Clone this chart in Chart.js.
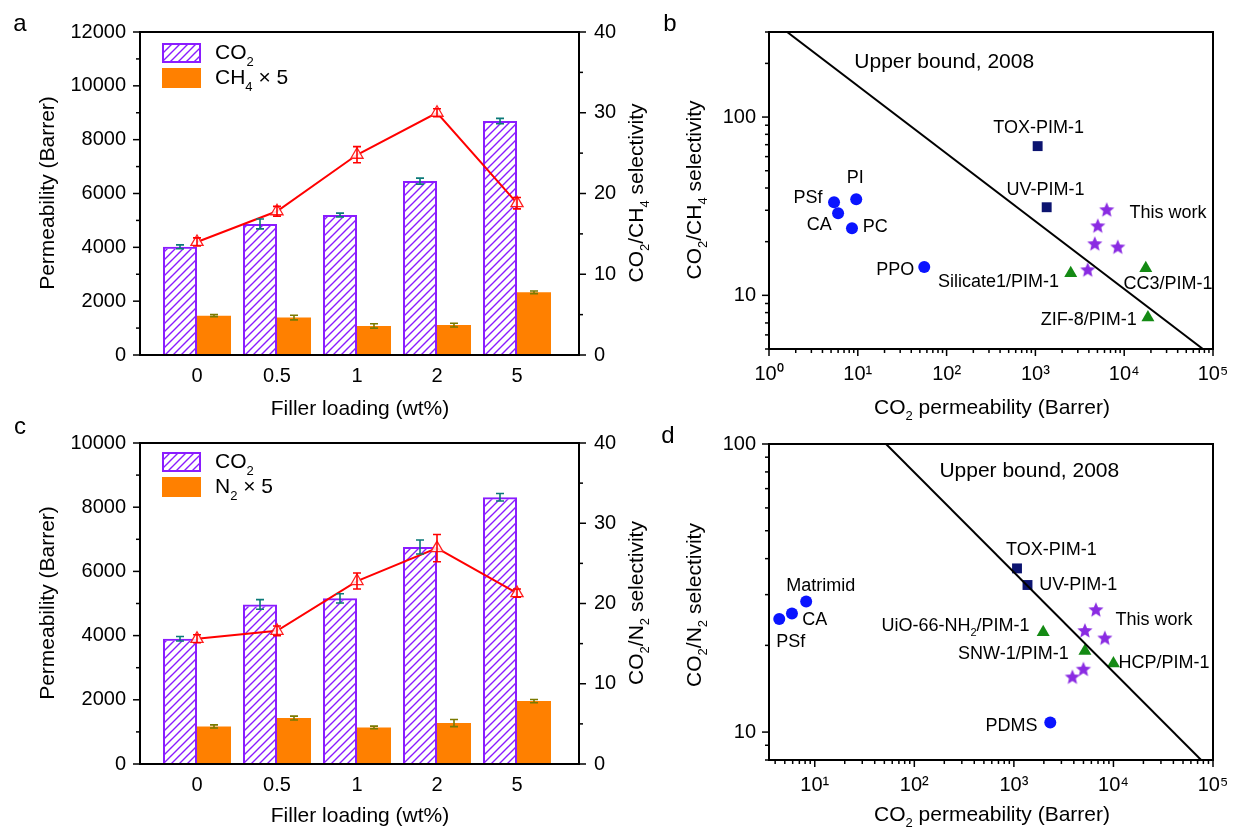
<!DOCTYPE html>
<html lang="en">
<head>
<meta charset="UTF-8">
<title>CO2 permeability and selectivity</title>
<script src="https://cdn.jsdelivr.net/npm/chart.js"></script>
<style>
    body { margin: 0; background: #fff; }
    #page { position: relative; width: 1235px; height: 831px; overflow: hidden; background: #fff; }
    canvas { position: absolute; }
</style>
</head>
<body>
<div id="page">
    <canvas id="chartA" width="660" height="430" style="left:0;top:0"></canvas>
    <canvas id="chartB" width="600" height="430" style="left:660px;top:0"></canvas>
    <canvas id="chartC" width="660" height="416" style="left:0;top:415px"></canvas>
    <canvas id="chartD" width="600" height="416" style="left:660px;top:415px"></canvas>
</div>
<script>
// ---- data ----
const loadings = ['0', '0.5', '1', '2', '5'];
const loadingPos = [0, 1, 2, 3, 4];

// panel a (CO2 / CH4)
const co2PermA = [4020, 4870, 5200, 6460, 8690];
const co2ErrA = [70, 185, 70, 110, 100];
const ch4PermA = [1460, 1390, 1080, 1110, 2330];
const ch4ErrA = [40, 85, 80, 70, 50];
const selA = [14.0, 17.8, 24.8, 30.0, 18.8];
const selErrA = [0.5, 0.6, 1.0, 0.5, 0.7];

// panel c (CO2 / N2)
const co2PermC = [3900, 4970, 5160, 6760, 8310];
const co2ErrC = [70, 150, 145, 220, 115];
const n2PermC = [1170, 1430, 1140, 1275, 1960];
const n2ErrC = [50, 60, 40, 110, 50];
const selC = [15.6, 16.6, 22.8, 26.9, 21.3];
const selErrC = [0.5, 0.6, 1.0, 1.7, 0.5];

// bar panel ticks
const permTicksA = [0, 2000, 4000, 6000, 8000, 10000, 12000];
const permMinorA = [1000, 3000, 5000, 7000, 9000, 11000];
const permTicksC = [0, 2000, 4000, 6000, 8000, 10000];
const permMinorC = [1000, 3000, 5000, 7000, 9000];
const selTicks = [0, 10, 20, 30, 40];
const selMinor = [5, 15, 25, 35];

// panel b (Robeson plot CO2/CH4)
const bPolyP = [5.4, 9.6, 6.0, 8.6, 56];          // PSf, PI, CA, PC, PPO
const bPolySel = [33.3, 34.6, 28.9, 23.8, 14.4];
const bPimP = [1060, 1340];                      // TOX-PIM-1, UV-PIM-1
const bPimSel = [68.7, 31.2];
const bWorkP = [3880, 4660, 5040, 6360, 8470];   // this work
const bWorkSel = [14.0, 19.6, 24.7, 30.4, 18.8];
const bMmmP = [2500, 17500, 18500];              // Silicate1, CC3, ZIF-8
const bMmmSel = [13.3, 14.2, 7.5];
const bBoundP = [1.6, 77000];
const bBoundSel = [300, 5];
const bLabels = [
    ['Upper bound, 2008', 94, 204, 21],
    ['PI', 9.35, 45.4], ['PSf', 2.75, 35.1], ['CA', 3.67, 24.7], ['PC', 15.7, 24.1],
    ['PPO', 26.4, 13.8], ['TOX-PIM-1', 1087, 86.7], ['UV-PIM-1', 1303, 38.9],
    ['This work', 31050, 28.9], ['Silicate1/PIM-1', 384, 11.8],
    ['CC3/PIM-1', 31050, 11.5], ['ZIF-8/PIM-1', 3980, 7.24]
];

// panel d (Robeson plot CO2/N2)
const dPolyP = [4.4, 5.9, 8.2, 2320];            // PSf, CA, Matrimid, PDMS
const dPolySel = [24.7, 25.8, 28.4, 10.8];
const dPimP = [1075, 1370];
const dPimSel = [37, 32.4];
const dWorkP = [3870, 4990, 5170, 6670, 8200];
const dWorkSel = [15.6, 16.6, 22.6, 26.7, 21.3];
const dMmmP = [1970, 5170, 10000];               // UiO-66-NH2, SNW-1, HCP
const dMmmSel = [22.2, 19.1, 17.3];
const dBoundP = [52, 76000];
const dBoundSel = [100, 8];
const dLabels = [
    ['Upper bound, 2008', 1429, 80.6, 21],
    ['TOX-PIM-1', 2377, 42.9], ['UV-PIM-1', 4426, 32.5], ['Matrimid', 11.5, 32.2],
    ['CA', 10.0, 24.4], ['PSf', 5.75, 20.6], ['This work', 25600, 24.4],
    ['UiO-66-NH_2/PIM-1', 259, 23.4], ['SNW-1/PIM-1', 988, 18.7],
    ['HCP/PIM-1', 32200, 17.3], ['PDMS', 944, 10.5]
];

const decadeTicks = [1, 10, 100, 1000, 10000, 100000];
const decadeLabels = ['10⁰', '10¹', '10²', '10³', '10⁴', '10⁵'];
const selLogTicks = [10, 100];

// ---- helpers ----
const FONT = '"Liberation Sans", Arial, sans-serif';
const PURPLE = '#8a1cff';
const ORANGE = '#ff8000';

Chart.defaults.font.family = FONT;
Chart.defaults.font.size = 20;
Chart.defaults.color = '#000';
Chart.defaults.animation = false;

function pts(xs, ys) {
    return xs.map((x, i) => ({ x: x, y: ys[i] }));
}

function minorLog(lo, hi) {
    const out = [];
    for (let d = 1; d < hi; d *= 10) {
        for (let k = 2; k <= 9; k++) {
            const v = k * d;
            if (v >= lo && v <= hi) out.push(v);
        }
    }
    return out;
}

function hatch(color) {
    const c = document.createElement('canvas');
    c.width = 8; c.height = 8;
    const g = c.getContext('2d');
    g.strokeStyle = color;
    g.lineWidth = 1.4;
    g.beginPath();
    g.moveTo(0, 8); g.lineTo(8, 0);
    g.moveTo(-2, 2); g.lineTo(2, -2);
    g.moveTo(6, 10); g.lineTo(10, 6);
    g.stroke();
    return g.createPattern(c, 'repeat');
}

function starImg(color, r) {
    const s = Math.ceil(r * 2 + 2);
    const c = document.createElement('canvas');
    c.width = s; c.height = s;
    const g = c.getContext('2d');
    g.fillStyle = color;
    g.beginPath();
    for (let i = 0; i < 10; i++) {
        const rad = i % 2 ? r * 0.45 : r;
        const ang = -Math.PI / 2 + i * Math.PI / 5;
        g.lineTo(s / 2 + rad * Math.cos(ang), s / 2 + 1 + rad * Math.sin(ang));
    }
    g.closePath();
    g.fill();
    return c;
}

// text with _2 style subscripts
function richText(ctx, str, x, y, size, rot) {
    const segs = str.split(/_(\d)/);
    const fontOf = sub => (sub ? Math.round(size * 0.62) : size) + 'px ' + FONT;
    ctx.save();
    ctx.translate(x, y);
    ctx.rotate(rot || 0);
    ctx.textBaseline = 'middle';
    ctx.textAlign = 'left';
    ctx.fillStyle = '#000';
    let w = 0;
    segs.forEach((s, k) => { ctx.font = fontOf(k % 2); w += ctx.measureText(s).width; });
    let cx = -w / 2;
    segs.forEach((s, k) => {
        ctx.font = fontOf(k % 2);
        ctx.fillText(s, cx, k % 2 ? size * 0.4 : 0);
        cx += ctx.measureText(s).width;
    });
    ctx.restore();
}

const decor = {
    id: 'decor',
    afterDatasetsDraw(chart) {
        const ctx = chart.ctx;
        chart.data.datasets.forEach((ds, i) => {
            if (!ds.errors) return;
            const meta = chart.getDatasetMeta(i);
            const ys = chart.scales[meta.yAxisID];
            ctx.save();
            ctx.strokeStyle = ds.errorColor;
            ctx.lineWidth = 1.6;
            meta.data.forEach((el, j) => {
                const v = ds.data[j].y, e = ds.errors[j];
                const y1 = ys.getPixelForValue(v + e), y2 = ys.getPixelForValue(v - e);
                ctx.beginPath();
                ctx.moveTo(el.x, y1); ctx.lineTo(el.x, y2);
                ctx.moveTo(el.x - 4, y1); ctx.lineTo(el.x + 4, y1);
                ctx.moveTo(el.x - 4, y2); ctx.lineTo(el.x + 4, y2);
                ctx.stroke();
            });
            ctx.restore();
        });
    },
    afterDraw(chart, args, o) {
        const ctx = chart.ctx, a = chart.chartArea;
        ctx.save();
        ctx.strokeStyle = '#000';
        ctx.lineWidth = 2;
        ctx.strokeRect(a.left, a.top, a.right - a.left, a.bottom - a.top);

        // outward tick marks
        ctx.lineWidth = 1.5;
        Object.keys(o.marks || {}).forEach(id => {
            const s = chart.scales[id], m = o.marks[id];
            [[m.major, 7], [m.minor || [], 4]].forEach(([vals, len]) => {
                vals.forEach(v => {
                    const p = s.getPixelForValue(v);
                    ctx.beginPath();
                    if (s.position === 'left') { ctx.moveTo(a.left, p); ctx.lineTo(a.left - len, p); }
                    else if (s.position === 'right') { ctx.moveTo(a.right, p); ctx.lineTo(a.right + len, p); }
                    else { ctx.moveTo(p, a.bottom); ctx.lineTo(p, a.bottom + len); }
                    ctx.stroke();
                });
            });
        });

        (o.titles || []).forEach(t => richText(ctx, t[0], t[1], t[2], 21, t[3] || 0));

        (o.labels || []).forEach(l => {
            const x = chart.scales.x.getPixelForValue(l[1]);
            const y = chart.scales.y.getPixelForValue(l[2]);
            richText(ctx, l[0], x, y, l[3] || 18, 0);
        });

        if (o.legend) {
            const L = o.legend;
            L.items.forEach((it, k) => {
                const y = L.y + k * L.step;
                ctx.fillStyle = it.fill;
                ctx.fillRect(L.x, y, L.w, L.h);
                if (it.stroke) {
                    ctx.strokeStyle = it.stroke;
                    ctx.lineWidth = 2;
                    ctx.strokeRect(L.x + 1, y + 1, L.w - 2, L.h - 2);
                }
                ctx.save();
                ctx.translate(L.tx, y + L.h / 2);
                ctx.textBaseline = 'middle';
                ctx.fillStyle = '#000';
                let cx = 0;
                it.text.split(/_(\d)/).forEach((s, q) => {
                    ctx.font = (q % 2 ? 13 : 21) + 'px ' + FONT;
                    ctx.fillText(s, cx, q % 2 ? 9 : 0);
                    cx += ctx.measureText(s).width;
                });
                ctx.restore();
            });
        }

        if (o.letter) {
            ctx.font = '24px ' + FONT;
            ctx.fillStyle = '#000';
            ctx.textAlign = 'center';
            ctx.textBaseline = 'middle';
            ctx.fillText(o.letter[0], o.letter[1], o.letter[2]);
        }
        ctx.restore();
    }
};

function barPanel(id, p) {
    return new Chart(document.getElementById(id), {
        type: 'bar',
        data: {
            datasets: [{
                type: 'line',
                yAxisID: 'y1',
                order: 0,
                data: pts(loadingPos, p.sel),
                errors: p.selErr,
                errorColor: '#ff0000',
                borderColor: '#ff0000',
                borderWidth: 2,
                pointStyle: 'triangle',
                pointRadius: 7,
                pointBackgroundColor: 'rgba(255,255,255,0.85)',
                pointBorderColor: '#ff2020',
                pointBorderWidth: 1.3
            }, {
                order: 1,
                yAxisID: 'y',
                data: pts(loadingPos, p.co2),
                errors: p.co2Err,
                errorColor: '#0b7a78',
                backgroundColor: hatch(PURPLE),
                borderColor: PURPLE,
                borderWidth: 2,
                borderSkipped: 'bottom',
                categoryPercentage: 0.85,
                barPercentage: 1.0
            }, {
                order: 1,
                yAxisID: 'y',
                data: pts(loadingPos, p.gas),
                errors: p.gasErr,
                errorColor: '#7a7a00',
                backgroundColor: ORANGE,
                borderWidth: 0,
                categoryPercentage: 0.85,
                barPercentage: 1.0
            }]
        },
        options: {
            responsive: false,
            devicePixelRatio: 1,
            layout: { padding: { top: p.top, right: 0, left: 0, bottom: 0 } },
            plugins: {
                legend: { display: false },
                tooltip: { enabled: false },
                decor: {
                    marks: {
                        y: { major: p.permTicks, minor: p.permMinor },
                        y1: { major: selTicks, minor: selMinor }
                    },
                    titles: p.titles,
                    legend: p.legend,
                    letter: p.letter
                }
            },
            scales: {
                x: {
                    type: 'linear',
                    offset: false,
                    min: -0.7125,
                    max: 4.775,
                    afterBuildTicks: s => { s.ticks = loadingPos.map(v => ({ value: v })); },
                    afterFit: s => { s.height = p.xHeight; },
                    ticks: { callback: (v, i) => loadings[i], padding: 9, maxRotation: 0, autoSkip: false },
                    grid: { display: false, drawTicks: false },
                    border: { display: true, width: 2, color: '#000' }
                },
                y: {
                    position: 'left',
                    min: 0,
                    max: p.permMax,
                    afterBuildTicks: s => { s.ticks = p.permTicks.map(v => ({ value: v })); },
                    afterFit: s => { s.width = 140; },
                    ticks: { callback: v => String(v), padding: 14 },
                    grid: { display: false, drawTicks: false },
                    border: { display: true, width: 2, color: '#000' }
                },
                y1: {
                    position: 'right',
                    min: 0,
                    max: 40,
                    afterBuildTicks: s => { s.ticks = selTicks.map(v => ({ value: v })); },
                    afterFit: s => { s.width = 660 - 579; },
                    ticks: { callback: v => String(v), padding: 15 },
                    grid: { display: false, drawTicks: false },
                    border: { display: true, width: 2, color: '#000' }
                }
            }
        },
        plugins: [decor]
    });
}

function scatterPanel(id, p) {
    const star = starImg('#8a2be2', 8);
    return new Chart(document.getElementById(id), {
        type: 'scatter',
        data: {
            datasets: [{
                data: pts(p.boundP, p.boundSel),
                showLine: true,
                borderColor: '#000',
                borderWidth: 2,
                pointRadius: 0
            }, {
                data: pts(p.polyP, p.polySel),
                pointStyle: 'circle',
                pointRadius: 6,
                backgroundColor: '#0a14ff',
                borderWidth: 0
            }, {
                data: pts(p.pimP, p.pimSel),
                pointStyle: 'rect',
                pointRadius: 7,
                backgroundColor: '#0c1470',
                borderWidth: 0
            }, {
                data: pts(p.workP, p.workSel),
                pointStyle: star,
                pointRadius: 7
            }, {
                data: pts(p.mmmP, p.mmmSel),
                pointStyle: 'triangle',
                pointRadius: 7.5,
                backgroundColor: '#148a14',
                borderWidth: 0
            }]
        },
        options: {
            responsive: false,
            devicePixelRatio: 1,
            layout: { padding: { top: p.top, right: 47, left: 0, bottom: 0 } },
            plugins: {
                legend: { display: false },
                tooltip: { enabled: false },
                decor: {
                    marks: {
                        x: { major: p.xTicks, minor: minorLog(p.xMin, p.xMax) },
                        y: { major: selLogTicks, minor: minorLog(p.yMin, p.yMax) }
                    },
                    titles: p.titles,
                    labels: p.labels,
                    letter: p.letter
                }
            },
            scales: {
                x: {
                    type: 'logarithmic',
                    position: 'bottom',
                    min: p.xMin,
                    max: p.xMax,
                    afterBuildTicks: s => { s.ticks = p.xTicks.map(v => ({ value: v })); },
                    afterFit: s => { s.height = p.xHeight; },
                    ticks: {
                        callback: v => decadeLabels[decadeTicks.indexOf(v)],
                        padding: 13, maxRotation: 0, autoSkip: false
                    },
                    grid: { display: false, drawTicks: false },
                    border: { display: true, width: 2, color: '#000' }
                },
                y: {
                    type: 'logarithmic',
                    position: 'left',
                    min: p.yMin,
                    max: p.yMax,
                    afterBuildTicks: s => { s.ticks = selLogTicks.map(v => ({ value: v })); },
                    afterFit: s => { s.width = 109; },
                    ticks: { callback: v => String(v), padding: 13 },
                    grid: { display: false, drawTicks: false },
                    border: { display: true, width: 2, color: '#000' }
                }
            }
        },
        plugins: [decor]
    });
}

barPanel('chartA', {
    co2: co2PermA, co2Err: co2ErrA, gas: ch4PermA, gasErr: ch4ErrA,
    sel: selA, selErr: selErrA,
    permMax: 12000, permTicks: permTicksA, permMinor: permMinorA,
    top: 32, xHeight: 430 - 355,
    titles: [['Permeability (Barrer)', 48, 193, -Math.PI / 2],
             ['CO_2/CH_4 selectivity', 637, 193, -Math.PI / 2],
             ['Filler loading (wt%)', 360, 409]],
    legend: { x: 162, y: 43, step: 25, w: 39, h: 20, tx: 215,
              items: [{ fill: hatch(PURPLE), stroke: PURPLE, text: 'CO_2' },
                      { fill: ORANGE, text: 'CH_4 × 5' }] },
    letter: ['a', 20, 24]
});

barPanel('chartC', {
    co2: co2PermC, co2Err: co2ErrC, gas: n2PermC, gasErr: n2ErrC,
    sel: selC, selErr: selErrC,
    permMax: 10000, permTicks: permTicksC, permMinor: permMinorC,
    top: 28, xHeight: 416 - 349,
    titles: [['Permeability (Barrer)', 48, 188, -Math.PI / 2],
             ['CO_2/N_2 selectivity', 637, 188, -Math.PI / 2],
             ['Filler loading (wt%)', 360, 401]],
    legend: { x: 162, y: 37, step: 25, w: 39, h: 20, tx: 215,
              items: [{ fill: hatch(PURPLE), stroke: PURPLE, text: 'CO_2' },
                      { fill: ORANGE, text: 'N_2 × 5' }] },
    letter: ['c', 20, 12]
});

scatterPanel('chartB', {
    polyP: bPolyP, polySel: bPolySel, pimP: bPimP, pimSel: bPimSel,
    workP: bWorkP, workSel: bWorkSel, mmmP: bMmmP, mmmSel: bMmmSel,
    boundP: bBoundP, boundSel: bBoundSel,
    xMin: 1, xMax: 100000, yMin: 5, yMax: 300, xTicks: decadeTicks,
    top: 32, xHeight: 430 - 349,
    titles: [['CO_2/CH_4 selectivity', 35, 190, -Math.PI / 2],
             ['CO_2 permeability (Barrer)', 332, 408]],
    labels: bLabels,
    letter: ['b', 10, 24]
});

scatterPanel('chartD', {
    polyP: dPolyP, polySel: dPolySel, pimP: dPimP, pimSel: dPimSel,
    workP: dWorkP, workSel: dWorkSel, mmmP: dMmmP, mmmSel: dMmmSel,
    boundP: dBoundP, boundSel: dBoundSel,
    xMin: 3.47, xMax: 100000, yMin: 8, yMax: 100, xTicks: decadeTicks.slice(1),
    top: 29, xHeight: 416 - 345,
    titles: [['CO_2/N_2 selectivity', 35, 190, -Math.PI / 2],
             ['CO_2 permeability (Barrer)', 332, 400]],
    labels: dLabels,
    letter: ['d', 8, 21]
});
</script>
</body>
</html>
